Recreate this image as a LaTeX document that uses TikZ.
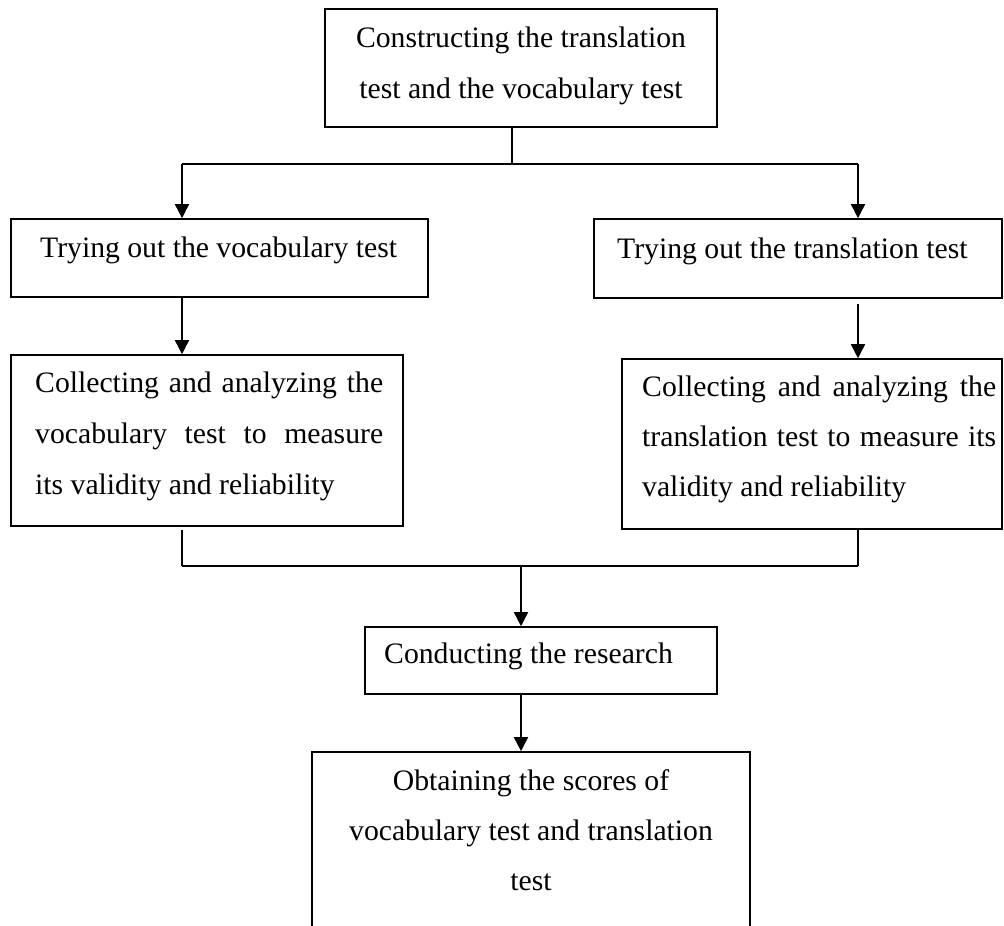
\documentclass[tikz,border=0pt]{standalone}
\usepackage{fontspec}
\setmainfont{Liberation Serif}
\usetikzlibrary{arrows.meta}
\newcommand\figfont{\fontsize{29.7pt}{52pt}\selectfont}
\begin{document}
\begin{tikzpicture}[x=1pt,y=-1pt,
  box/.style={draw, line width=1.6pt, rectangle, inner sep=0pt},
  txt/.style={inner sep=0pt, anchor=base west, font=\figfont},
  ctxt/.style={inner sep=0pt, anchor=base, font=\figfont},
  conn/.style={line width=1.6pt},
  arr/.style={conn, -{Triangle[width=14pt,length=14pt]}}]
\useasboundingbox (0,0) rectangle (1004,926);
\fill[white] (0,0) rectangle (1004,926);
\clip (0,0) rectangle (1004,926);

% boxes
\node[box, minimum width=392pt, minimum height=118pt] (top) at (521,68) {};
\node[box, minimum width=417pt, minimum height=78pt] (lv1) at (219.5,258) {};
\node[box, minimum width=408pt, minimum height=79pt] (rv1) at (798,258.5) {};
\node[box, minimum width=392pt, minimum height=171pt] (lv2) at (207,440.5) {};
\node[box, minimum width=380pt, minimum height=170pt] (rv2) at (812,444) {};
\node[box, minimum width=352pt, minimum height=67pt] (cond) at (541,660.5) {};
\node[box, minimum width=438pt, minimum height=208pt] (obt) at (531,856) {};

% texts
\node[ctxt] (t1a) at (521,47) {Constructing the translation};
\node[ctxt] (t1b) at (521,98) {test and the vocabulary test};
\node[txt] (t2) at (40,257) {Trying out the vocabulary test};
\node[txt] (t3) at (617,258) {Trying out the translation test};
\node[txt] (t4a) at (35,392) {\makebox[348pt][s]{Collecting and analyzing the}};
\node[txt] (t4b) at (35,443) {\makebox[348pt][s]{vocabulary test to measure}};
\node[txt] (t4c) at (35,494) {its validity and reliability};
\node[txt] (t5a) at (642,396) {\makebox[354pt][s]{Collecting and analyzing the}};
\node[txt] (t5b) at (642,446) {\makebox[354pt][s]{translation test to measure its}};
\node[txt] (t5c) at (642,496) {validity and reliability};
\node[txt] (t6) at (384,663) {Conducting the research};
\node[ctxt] (t7a) at (531,790) {Obtaining the scores of};
\node[ctxt] (t7b) at (531,840) {vocabulary test and translation};
\node[ctxt] (t7c) at (531,890) {test};

% connector points
\coordinate (split) at (512,164);
\coordinate (la) at (182,164);
\coordinate (ra) at (858,164);
\coordinate (ml) at (182,566);
\coordinate (mr) at (858,566);
\coordinate (mm) at (521,566);

% connectors
\draw[conn] (split |- top.south) -- (split);
\draw[conn] (la) -- (ra);
\draw[arr] (la) -- (la |- lv1.north);
\draw[arr] (ra) -- (ra |- rv1.north);
\draw[arr] (la |- lv1.south) -- (la |- lv2.north);
\draw[arr, shorten <=5pt] (ra |- rv1.south) -- (ra |- rv2.north);
\draw[conn, shorten <=3pt] (ml |- lv2.south) -- (ml);
\draw[conn] (ml) -- (mr);
\draw[conn] (mr |- rv2.south) -- (mr);
\draw[arr] (mm) -- (mm |- cond.north);
\draw[arr] (mm |- cond.south) -- (mm |- obt.north);
\end{tikzpicture}
\end{document}
